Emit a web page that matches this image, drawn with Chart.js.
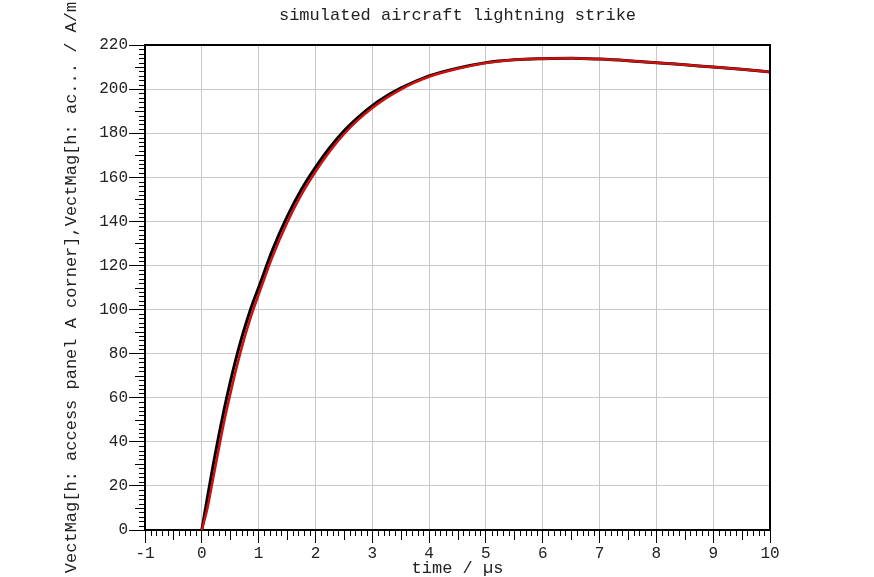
<!DOCTYPE html>
<html lang="en">
<head>
    <meta charset="UTF-8">
    <title>simulated aircraft lightning strike</title>
    <script src="https://cdn.jsdelivr.net/npm/chart.js"></script>
    <style>
        html, body { margin: 0; padding: 0; background: #fff; }
        #wrap { width: 874px; height: 577px; }
    </style>
</head>
<body>
<div id="wrap"><canvas id="strikeChart"></canvas></div>
<script>
    // time axis (µs) and the two field magnitudes (A/m)
    const times = [0, 0.1, 0.2, 0.3, 0.4, 0.5, 0.6, 0.7, 0.8, 0.9, 1.0, 1.25, 1.5, 1.75, 2.0,
        2.25, 2.5, 2.75, 3.0, 3.25, 3.5, 3.75, 4.0, 4.5, 5.0, 5.5, 6.0, 6.5, 7.0, 7.5, 8.0, 8.5, 9.0, 9.5, 10.0];
    const cornerBlack = [0, 15, 29.5, 43, 55.5, 67, 77.5, 87, 95.5, 103.2, 110, 127.4, 142, 154.3, 164.5,
        173.4, 181, 187.2, 192.5, 196.8, 200.4, 203.4, 206, 209.5, 212, 213.3, 213.8, 214, 213.6, 212.9, 212, 211, 210, 209, 207.8];
    const cornerRed = [0, 10, 23.5, 37, 50, 61.5, 72.5, 82.5, 91.5, 99.5, 106.8, 124.4, 139.3, 152, 162.5,
        171.7, 179.5, 186, 191.4, 196, 199.8, 203, 205.6, 209.2, 211.8, 213.3, 213.8, 214, 213.6, 212.9, 212, 211, 210, 209, 207.8];
    const xTicks = [-1, 0, 1, 2, 3, 4, 5, 6, 7, 8, 9, 10];
    const yTicks = [0, 20, 40, 60, 80, 100, 120, 140, 160, 180, 200, 220];
    const chartTitle = 'simulated aircraft lightning strike';

    const monoFont = 'Liberation Mono, DejaVu Sans Mono, monospace';
    Chart.defaults.color = '#222';
    Chart.defaults.font.family = monoFont;

    // title over the plot area, minor ticks on both axes, black frame on top and right
    const frameTicks = {
        id: 'frameTicks',
        afterDraw(chart) {
            const ctx = chart.ctx;
            const area = chart.chartArea;
            const xs = chart.scales.x, ys = chart.scales.y;
            ctx.save();
            ctx.fillStyle = '#222';
            ctx.font = '17px ' + monoFont;
            ctx.textAlign = 'center';
            ctx.textBaseline = 'middle';
            ctx.fillText(chartTitle, (area.left + area.right) / 2, 15);

            ctx.strokeStyle = '#000';
            ctx.lineWidth = 1;
            for (let i = -10; i <= 100; i++) {
                if (i % 10 === 0) continue;
                const px = Math.round(xs.getPixelForValue(i / 10)) + 0.5;
                const len = i % 5 === 0 ? 10 : 6;
                ctx.beginPath();
                ctx.moveTo(px, area.bottom);
                ctx.lineTo(px, area.bottom + len);
                ctx.stroke();
            }
            for (let v = 0; v <= 220; v += 2) {
                if (v % 20 === 0) continue;
                const py = Math.round(ys.getPixelForValue(v)) + 0.5;
                const len = v % 10 === 0 ? 10 : 6;
                ctx.beginPath();
                ctx.moveTo(area.left - len, py);
                ctx.lineTo(area.left, py);
                ctx.stroke();
            }
            ctx.lineWidth = 2;
            ctx.beginPath();
            ctx.moveTo(area.left, area.top);
            ctx.lineTo(area.right, area.top);
            ctx.lineTo(area.right, area.bottom);
            ctx.stroke();
            ctx.restore();
        }
    };

    const ctx = document.getElementById('strikeChart').getContext('2d');
    new Chart(ctx, {
        type: 'line',
        data: {
            datasets: [{
                label: 'VectMag[h: access panel A corner]',
                data: times.map((t, i) => ({ x: t, y: cornerBlack[i] })),
                borderColor: '#000000',
                borderWidth: 3,
                pointRadius: 0,
                cubicInterpolationMode: 'monotone',
                order: 1
            }, {
                label: 'VectMag[h: ac...]',
                data: times.map((t, i) => ({ x: t, y: cornerRed[i] })),
                borderColor: '#cc1111',
                borderWidth: 2.5,
                pointRadius: 0,
                cubicInterpolationMode: 'monotone',
                order: 0
            }]
        },
        options: {
            responsive: true,
            maintainAspectRatio: false,
            animation: false,
            layout: { padding: { top: 45, right: 104 } },
            plugins: {
                legend: { display: false },
                tooltip: { enabled: false },
                title: { display: false }
            },
            scales: {
                x: {
                    type: 'linear',
                    min: -1,
                    max: 10,
                    afterBuildTicks: (scale) => { scale.ticks = xTicks.map(v => ({ value: v })); },
                    afterFit: (scale) => { scale.height = 47; },
                    ticks: { font: { size: 16 }, padding: 1, maxRotation: 0 },
                    grid: { color: '#c8c8c8', tickColor: '#000', tickLength: 13, lineWidth: 1 },
                    border: { color: '#000', width: 2 },
                    title: {
                        display: true,
                        text: 'time / µs',
                        font: { size: 17, lineHeight: 1 },
                        padding: { top: 0, bottom: 0 }
                    }
                },
                y: {
                    type: 'linear',
                    min: 0,
                    max: 220,
                    afterBuildTicks: (scale) => { scale.ticks = yTicks.map(v => ({ value: v })); },
                    afterFit: (scale) => { scale.width = 145; },
                    ticks: { font: { size: 16 }, padding: 1 },
                    grid: { color: '#c8c8c8', tickColor: '#000', tickLength: 16, lineWidth: 1 },
                    border: { color: '#000', width: 2 },
                    title: {
                        display: true,
                        text: 'VectMag[h: access panel A corner],VectMag[h: ac... / A/m',
                        font: { size: 17, lineHeight: 1.2 },
                        padding: { top: 61, bottom: 0 }
                    }
                }
            }
        },
        plugins: [frameTicks]
    });
</script>
</body>
</html>
